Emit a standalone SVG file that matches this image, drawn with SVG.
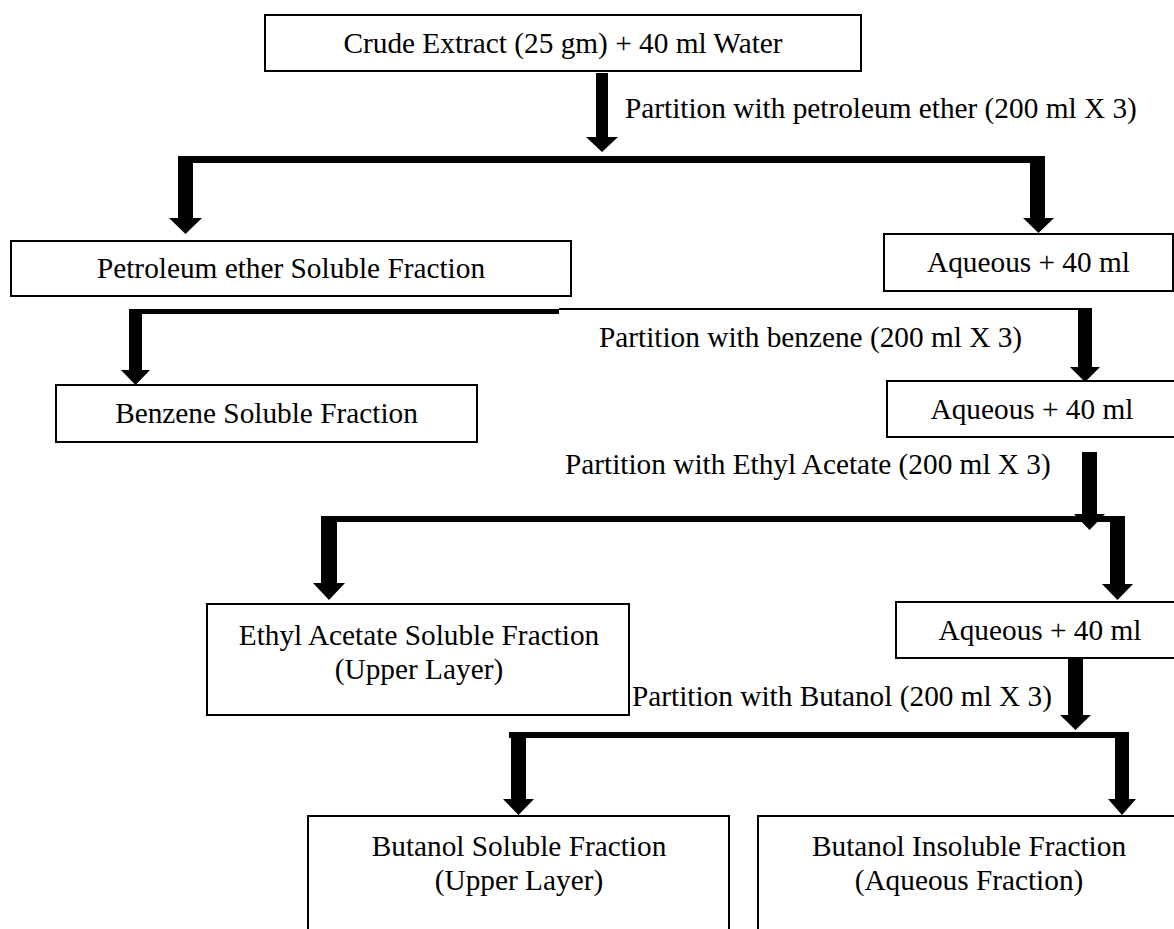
<svg xmlns="http://www.w3.org/2000/svg" width="1174" height="929" viewBox="0 0 1174 929">
<style>
.box{fill:#fff;stroke:#000;stroke-width:2}
.t{font-family:"Liberation Serif","Times New Roman",serif;font-size:29.3px;fill:#000}
.c{text-anchor:middle}
.con{fill:#000;stroke:none}
</style>
<rect width="1174" height="929" fill="#fff"/>
<g id="connectors">
<polygon class="con" points="596,73 608,73 608,137 618,137 602,152 586,137 596,137"/>
<rect class="con" x="178" y="156" width="867" height="7"/>
<polygon class="con" points="178,156 193,156 193,218 202,218 185.5,234 169,218 178,218"/>
<polygon class="con" points="1030,156 1045,156 1045,218 1054,218 1038.5,233 1023,218 1030,218"/>
<rect class="con" x="129" y="309" width="430" height="5"/>
<rect class="con" x="559" y="308" width="533" height="2"/>
<polygon class="con" points="129,309 142,309 142,370 150,370 135.5,385 121,370 129,370"/>
<polygon class="con" points="1078,308 1092,308 1092,367 1100,367 1085,382 1070,367 1078,367"/>
<polygon class="con" points="1082,452 1097,452 1097,514 1105,514 1089.5,530 1074,514 1082,514"/>
<rect class="con" x="321" y="516" width="804" height="6"/>
<polygon class="con" points="321,516 337,516 337,583 345,583 329,600 313,583 321,583"/>
<polygon class="con" points="1110,516 1125,516 1125,584 1133,584 1117.5,600 1102,584 1110,584"/>
<polygon class="con" points="1068,658 1083,658 1083,715 1091,715 1075.5,730 1060,715 1068,715"/>
<rect class="con" x="509" y="732" width="620" height="6"/>
<polygon class="con" points="511,732 526,732 526,799 534,799 518.5,815 503,799 511,799"/>
<polygon class="con" points="1115,732 1129,732 1129,799 1136,799 1122,815 1108,799 1115,799"/>
</g>
<g id="labels">
<text class="t" x="625" y="118">Partition with petroleum ether (200 ml X 3)</text>
<text class="t" x="599" y="347">Partition with benzene (200 ml X 3)</text>
<text class="t" x="565" y="474">Partition with Ethyl Acetate (200 ml X 3)</text>
<text class="t" x="632" y="706">Partition with Butanol (200 ml X 3)</text>
</g>
<g id="crude">
<rect class="box" x="265" y="15" width="596" height="56"/>
<text class="t c" x="563" y="53">Crude Extract (25 gm) + 40 ml Water</text>
</g>
<g id="petroleum">
<rect class="box" x="11" y="241" width="560" height="55"/>
<text class="t c" x="291" y="278">Petroleum ether Soluble Fraction</text>
</g>
<g id="aqueous1">
<rect class="box" x="884" y="234" width="289" height="57"/>
<text class="t c" x="1028.5" y="272">Aqueous + 40 ml</text>
</g>
<g id="benzene">
<rect class="box" x="56" y="385" width="421" height="57"/>
<text class="t c" x="266.5" y="423">Benzene Soluble Fraction</text>
</g>
<g id="aqueous2">
<rect class="box" x="887" y="381" width="300" height="56"/>
<text class="t c" x="1032" y="419">Aqueous + 40 ml</text>
</g>
<g id="ethyl">
<rect class="box" x="207" y="604" width="422" height="111"/>
<text class="t c" x="419" y="645">Ethyl Acetate Soluble Fraction</text>
<text class="t c" x="419" y="679">(Upper Layer)</text>
</g>
<g id="aqueous3">
<rect class="box" x="896" y="602" width="300" height="56"/>
<text class="t c" x="1040" y="640">Aqueous + 40 ml</text>
</g>
<g id="butanol-soluble">
<rect class="box" x="308" y="816" width="421" height="130"/>
<text class="t c" x="519" y="856">Butanol Soluble Fraction</text>
<text class="t c" x="519" y="890">(Upper Layer)</text>
</g>
<g id="butanol-insoluble">
<rect class="box" x="758" y="816" width="430" height="130"/>
<text class="t c" x="969" y="856">Butanol Insoluble Fraction</text>
<text class="t c" x="969" y="890">(Aqueous Fraction)</text>
</g>
</svg>
